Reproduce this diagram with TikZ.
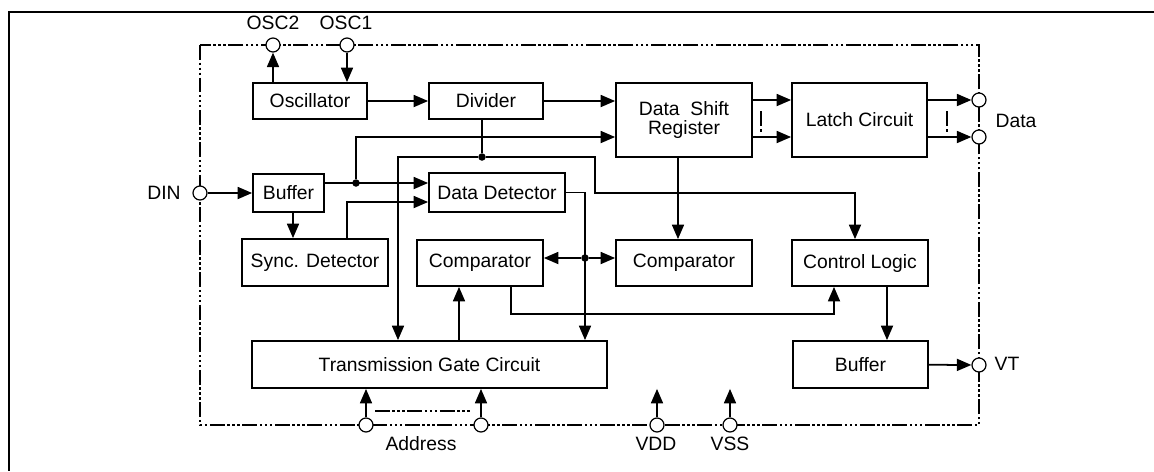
\documentclass[tikz,border=0pt]{standalone}
\usepackage{fontspec}
\setmainfont{Liberation Sans}
\usetikzlibrary{arrows.meta}

\begin{document}
\begin{tikzpicture}[x=0.02cm, y=-0.02cm,
  blockbox/.style={draw, line width=1pt, inner sep=1pt, align=center, font=\fontsize{11}{11}\selectfont},
  pin/.style={draw, circle, line width=0.7pt, fill=white, minimum size=0.28cm, inner sep=0pt},
  sig/.style={-{Triangle[length=0.29cm, width=0.24cm]}, line width=1pt},
  wire/.style={line width=1pt},
  dot/.style={circle, fill, inner sep=0pt, minimum size=0.15cm},
  frame/.style={line width=0.9pt, dash pattern=on 0.3cm off 0.05cm on 0.05cm off 0.05cm on 0.05cm off 0.05cm on 0.05cm off 0.05cm},
  gap/.style={line width=0.8pt, dash pattern=on 0.3cm off 0.06cm on 0.06cm},
  lab/.style={font=\fontsize{11}{11}\selectfont}
]
\useasboundingbox (0,0) rectangle (1154,471);

% ---------- outer frame and chip outline ----------
\draw[line width=1pt] (1154,12) -- (9,12) -- (9,471);
\draw[frame] (200,45) rectangle (979,425);

% ---------- pins ----------
\node[pin] (osc2) at (273,45) {};
\node[pin] (osc1) at (347,45) {};
\node[pin] (din) at (200,193) {};
\node[pin] (data1) at (979,100) {};
\node[pin] (data2) at (979,137) {};
\node[pin] (vt) at (979,365) {};
\node[pin] (adr1) at (366,425) {};
\node[pin] (adr2) at (481,425) {};
\node[pin] (vdd) at (657,425) {};
\node[pin] (vss) at (730,425) {};

\node[lab] (osc2l) at (273,23) {OSC2};
\node[lab] (osc1l) at (346,23) {OSC1};
\node[lab] (dinl) at (164,193) {DIN};
\node[lab] (datal) at (1016,121) {Data};
\node[lab] (vtl) at (1007,364) {VT};
\node[lab] (adrl) at (421,444) {Address};
\node[lab] (vddl) at (656,444) {VDD};
\node[lab] (vssl) at (730,444) {VSS};

% ---------- blocks ----------
\node[blockbox, minimum width=2.28cm, minimum height=0.72cm] (osc) at (310,101) {Oscillator};
\node[blockbox, minimum width=2.28cm, minimum height=0.72cm] (div) at (486,101) {Divider};
\node[blockbox, minimum width=2.72cm, minimum height=1.48cm] (dsr) at (684,120) {Data~~Shift\\Register};
\node[blockbox, minimum width=2.70cm, minimum height=1.48cm] (latch) at (859.5,120) {Latch Circuit};
\node[blockbox, minimum width=1.42cm, minimum height=0.76cm] (buf) at (288.5,193) {Buffer};
\node[blockbox, minimum width=2.72cm, minimum height=0.78cm] (ddet) at (497,192.5) {Data Detector};
\node[blockbox, minimum width=2.92cm, minimum height=0.94cm] (sync) at (315,262.5) {Sync. Detector};
\node[blockbox, minimum width=2.52cm, minimum height=0.92cm] (cmpa) at (480,263) {Comparator};
\node[blockbox, minimum width=2.72cm, minimum height=0.92cm] (cmpb) at (684,263) {Comparator};
\node[blockbox, minimum width=2.72cm, minimum height=0.92cm] (ctrl) at (860,263) {Control Logic};
\node[blockbox, minimum width=7.10cm, minimum height=0.94cm] (tgc) at (429.5,364.5) {Transmission Gate Circuit};
\node[blockbox, minimum width=2.70cm, minimum height=0.94cm] (bufo) at (860.5,364.5) {Buffer};

% junctions and bends
\node[dot] (j1) at (356,183) {};
\node[dot] (j2) at (482,157) {};
\node[dot] (j3) at (585,258) {};
\coordinate (c398) at (398,157);
\coordinate (c595) at (595,157);
\coordinate (c855) at (855,193);
\coordinate (c347) at (347,202);
\coordinate (c293) at (293,225);
\coordinate (c678) at (678,200);
\coordinate (c459) at (459,300);
\coordinate (c511) at (511,314);
\coordinate (c834) at (834,314);
\coordinate (c887) at (887,300);

% ---------- connections ----------
\draw[sig] (osc.north -| osc2) -- (osc2);
\draw[sig] (osc1) -- (osc1 |- osc.north);
\draw[sig] (osc) -- (div);
\draw[sig] (div.east) -- (dsr.west |- div.east);
\draw[sig] (dsr.east |- data1) -- (latch.west |- data1);
\draw[sig] (dsr.east |- data2) -- (latch.west |- data2);
\draw[sig] (latch.east |- data1) -- (data1);
\draw[sig] (latch.east |- data2) -- (data2);
\draw[gap] (761,111) -- (761,132);
\draw[gap] (947,111) -- (947,132);

\draw[sig] (din) -- (buf);
\draw[sig] (buf.east |- j1) -- (ddet.west |- j1);
\draw[sig] (j1) |- (dsr.west |- data2);
\draw[sig] (c293 |- buf.south) -- (c293 |- sync.north);
\draw[sig] (c347 |- sync.north) -- (c347) -- (c347 -| ddet.west);

\draw[wire] (j2 |- div.south) -- (j2);
\draw[sig] (j2) -- (c398) -- (c398 |- tgc.north);
\draw[sig] (j2) -- (c595) |- (c855) -- (c855 |- ctrl.north);
\draw[sig] (ddet.east) -| (j3 |- tgc.north);
\draw[sig] (j3) -- (cmpa.east |- j3);
\draw[sig] (j3) -- (cmpb.west |- j3);
\draw[sig] (c678 |- dsr.south) -- (c678 |- cmpb.north);

\draw[sig] (c459 |- tgc.north) -- (c459 |- cmpa.south);
\draw[sig] (c511 |- cmpa.south) -- (c511) -- (c834) -- (c834 |- ctrl.south);
\draw[sig] (c887 |- ctrl.south) -- (c887 |- bufo.north);
\draw[sig] (bufo) -- (vt);

\draw[sig] (adr1) -- (adr1 |- tgc.south);
\draw[sig] (adr2) -- (adr2 |- tgc.south);
\draw[frame] (375,411) -- (470,411);
\draw[sig] (vdd) -- (vdd |- tgc.south);
\draw[sig] (vss) -- (vss |- tgc.south);

\end{tikzpicture}
\end{document}
